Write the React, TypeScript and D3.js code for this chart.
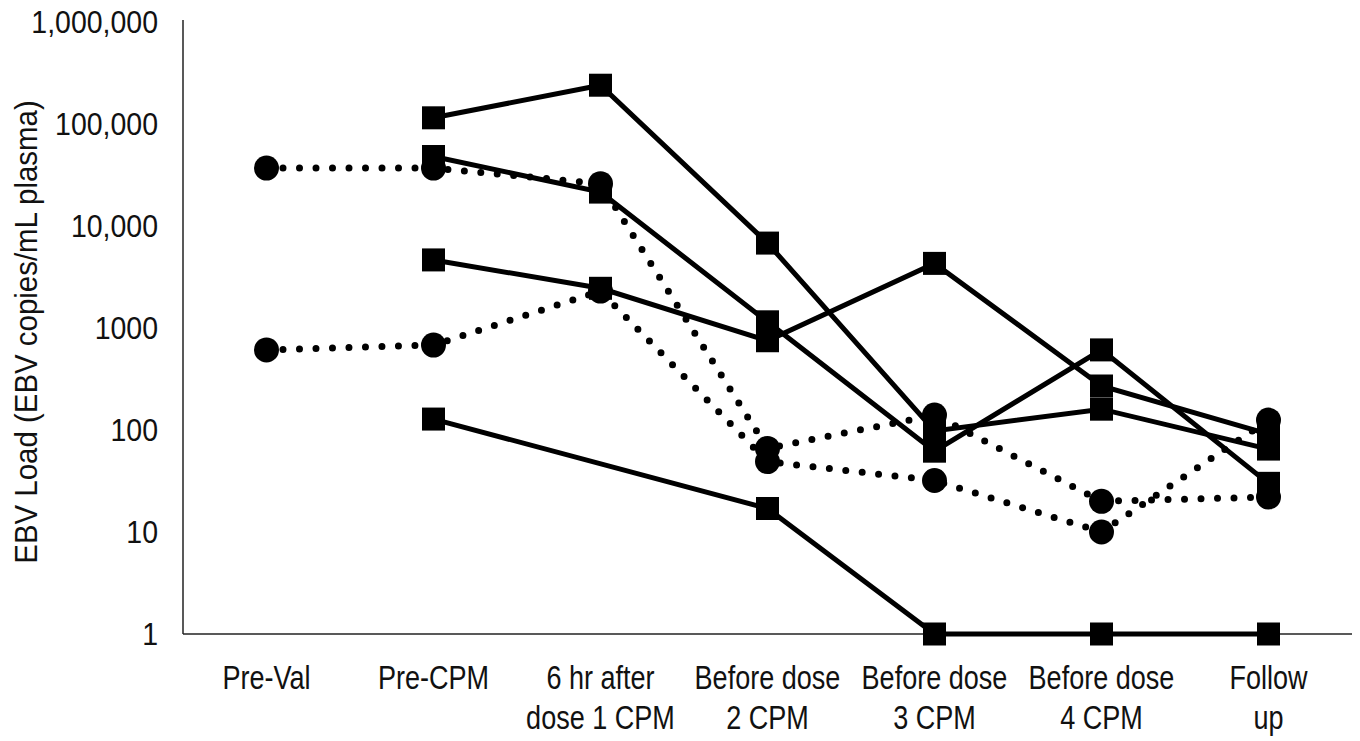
import React from 'react'
import * as d3 from 'd3'

// time points along the x axis (two label lines each)
const categories = ['Pre-Val', 'Pre-CPM', '6hr', 'D2', 'D3', 'D4', 'FU']
const labelLines = [
  ['Pre-Val', ''],
  ['Pre-CPM', ''],
  ['6 hr after', 'dose 1 CPM'],
  ['Before dose', '2 CPM'],
  ['Before dose', '3 CPM'],
  ['Before dose', '4 CPM'],
  ['Follow', 'up'],
]

// dotted series, round markers
const circleA = [37000, 37000, 26000, 66, 140, 20, 22]
const circleB = [610, 680, 2300, 49, 32, 10, 125]

// solid series, square markers
const squareA = [null, 115000, 240000, 6800, 98, 160, 65]
const squareB = [null, 48000, 21500, 1150, 62, 610, 30]
const squareC = [null, 4650, 2450, 750, 4300, 270, 91]
const squareD = [null, 128, null, 17, 1, 1, 1]

const yTicks = [1, 10, 100, 1000, 10000, 100000, 1000000]
const yTickLabels = ['1', '10', '100', '1000', '10,000', '100,000', '1,000,000']

// no condensed face is installed, so text gets squeezed horizontally
const FONT = '"Liberation Sans", Arial, sans-serif'

export default function App() {
  const width = 1360
  const height = 741
  const left = 183
  const right = 1352
  const top = 22
  const bottom = 634

  const x = d3.scalePoint<string>().domain(categories).range([left, right]).padding(0.5)
  const y = d3.scaleLog().domain([1, 1000000]).range([bottom, top])

  // drop the gaps so the line runs straight across a missing time point
  const toPoints = (vals: (number | null)[]) =>
    vals
      .map((v, i) => ({ c: categories[i], v }))
      .filter((d) => d.v != null) as { c: string; v: number }[]

  const line = d3
    .line<{ c: string; v: number }>()
    .x((d) => x(d.c) as number)
    .y((d) => y(d.v))

  const dotted = [circleA, circleB].map(toPoints)
  const solid = [squareA, squareB, squareC, squareD].map(toPoints)
  const sq = 23

  return (
    <svg
      width={width}
      height={height}
      style={{ position: 'absolute', left: 0, top: 0, background: '#fff' }}
    >
      {/* axes */}
      <line x1={left} x2={left} y1={20} y2={bottom} stroke="#222" strokeWidth={1.5} />
      <line x1={left} x2={right} y1={bottom} y2={bottom} stroke="#222" strokeWidth={1.5} />

      {yTicks.map((t, i) => (
        <g key={t} transform={`translate(158, ${y(t) + 11}) scale(0.89, 1)`}>
          <text textAnchor="end" fontFamily={FONT} fontSize={32} fill="#111">
            {yTickLabels[i]}
          </text>
        </g>
      ))}

      <g transform={`translate(37, 332) rotate(-90) scale(0.92, 1)`}>
        <text textAnchor="middle" fontFamily={FONT} fontSize={32} fill="#111">
          EBV Load (EBV copies/mL plasma)
        </text>
      </g>

      {categories.map((c, i) => (
        <g key={c} fontFamily={FONT} fontSize={33} fill="#111" textAnchor="middle">
          <g transform={`translate(${x(c)}, 689) scale(0.82, 1)`}>
            <text>{labelLines[i][0]}</text>
          </g>
          {labelLines[i][1] && (
            <g transform={`translate(${x(c)}, 729) scale(0.82, 1)`}>
              <text>{labelLines[i][1]}</text>
            </g>
          )}
        </g>
      ))}

      {/* lines */}
      {dotted.map((pts, i) => (
        <path
          key={'d' + i}
          d={line(pts) || ''}
          fill="none"
          stroke="#000"
          strokeWidth={7}
          strokeLinecap="round"
          strokeDasharray="0 16.5"
        />
      ))}
      {solid.map((pts, i) => (
        <path key={'s' + i} d={line(pts) || ''} fill="none" stroke="#000" strokeWidth={5} />
      ))}

      {/* markers */}
      {dotted.map((pts, i) =>
        pts.map((d) => (
          <circle key={'c' + i + d.c} cx={x(d.c)} cy={y(d.v)} r={12.5} fill="#000" />
        ))
      )}
      {solid.map((pts, i) =>
        pts.map((d) => (
          <rect
            key={'r' + i + d.c}
            x={(x(d.c) as number) - sq / 2}
            y={y(d.v) - sq / 2}
            width={sq}
            height={sq}
            fill="#000"
          />
        ))
      )}
    </svg>
  )
}
